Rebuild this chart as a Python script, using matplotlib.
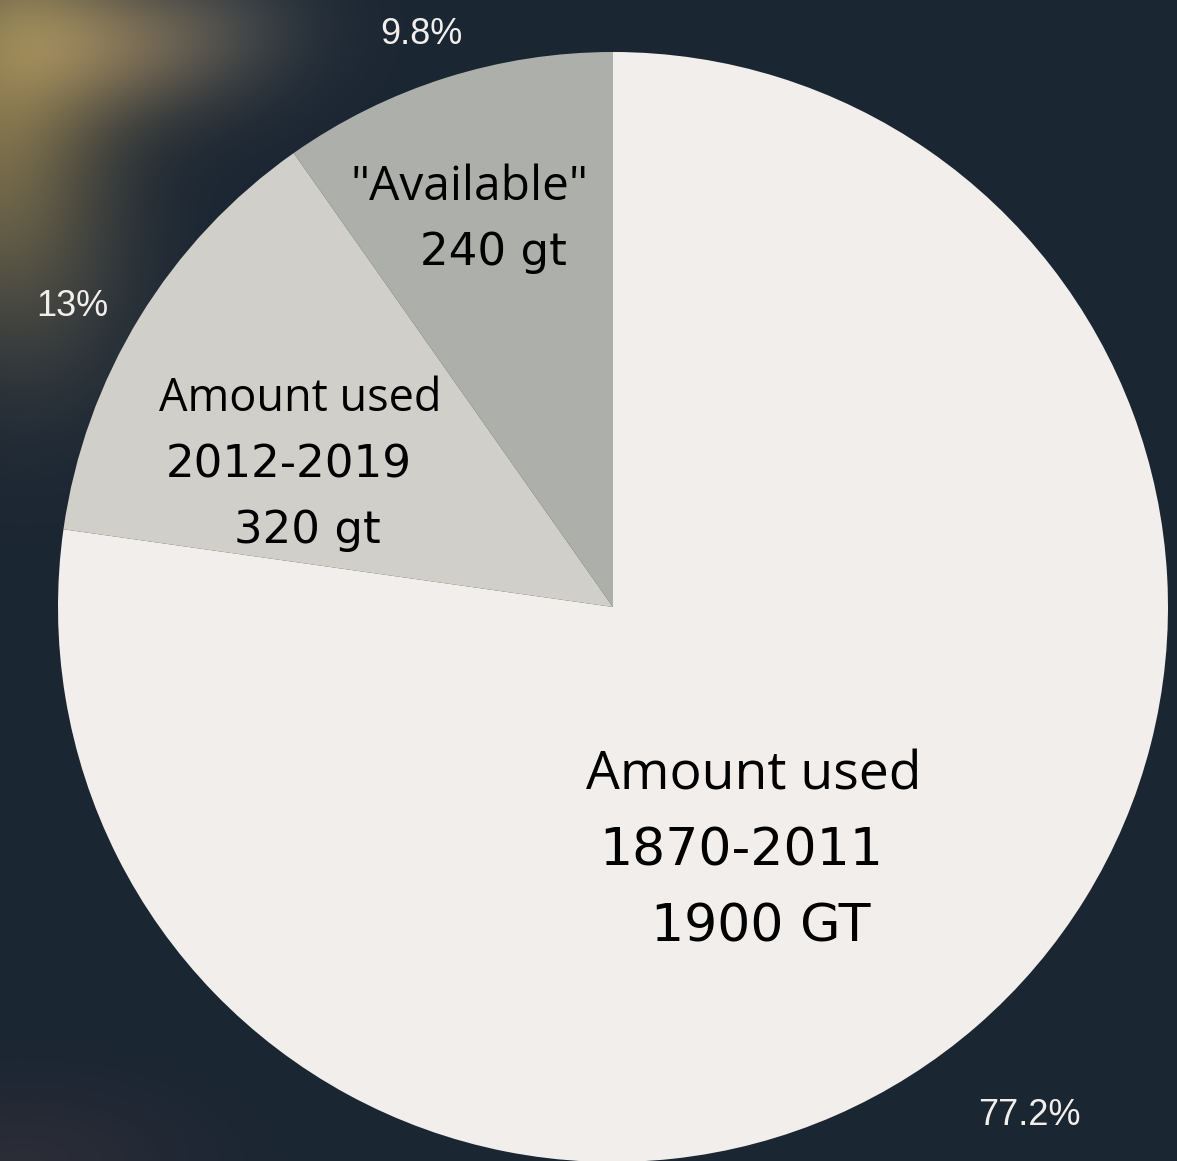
import numpy as np
import matplotlib
matplotlib.use("Agg")
import matplotlib.pyplot as plt

# ---- data ----
categories = ['Amount used\n1870-2011\n1900 GT', 'Amount used\n2012-2019\n320 gt', '"Available"\n240 gt']
values = [1900, 320, 240]
pct_labels = ['77.2%', '13%', '9.8%']
colors = ['#f2eeeb', '#d0cfca', '#adb0aa']

W, H = 1177, 1161
CX, CY, R = 613, 607, 555

fig = plt.figure(figsize=(W / 100, H / 100), dpi=100)
fig.patch.set_facecolor('#1b2633')

# background with soft blurred glow (decorative)
bg = fig.add_axes([0, 0, 1, 1])
yy, xx = np.mgrid[0:H, 0:W]
base = np.array([27, 38, 51], dtype=float)
img = np.ones((H, W, 3)) * base
def blob(cx, cy, sx, sy, col, amt):
    g = np.exp(-(((xx - cx) / sx) ** 2 + ((yy - cy) / sy) ** 2) / 2.0) * amt
    return g[..., None] * (np.array(col, dtype=float) - base)
img += blob(-10, 120, 80, 130, (150, 130, 80), 0.75)
img += blob(130, 45, 80, 50, (135, 115, 88), 0.6)
img += blob(30, 20, 70, 60, (145, 138, 95), 0.3)
img += blob(230, 20, 70, 50, (75, 82, 85), 0.4)
img += blob(50, 300, 70, 90, (70, 72, 72), 0.35)
img += blob(20, 1160, 110, 50, (55, 50, 58), 0.55)
img = np.clip(img, 0, 255) / 255.0
bg.imshow(img, extent=[0, W, H, 0], aspect='auto', interpolation='bilinear')
bg.set_xlim(0, W)
bg.set_ylim(H, 0)
bg.axis('off')

ax = fig.add_axes([0, 0, 1, 1])
ax.patch.set_alpha(0)

# pie drawn counterclockwise from top: Available, 2012-2019, 1870-2011
order = [2, 1, 0]
wedges, _ = ax.pie([values[i] for i in order], colors=[colors[i] for i in order],
                   startangle=90, counterclock=True, radius=R, center=(0, 0),
                   wedgeprops=dict(linewidth=0))
ax.set_xlim(-CX, W - CX)
ax.set_ylim(-(H - CY), CY)
ax.set_aspect('equal')
ax.axis('off')

word_font = ['Open Sans', 'DejaVu Sans']
num_font = ['DejaVu Sans']
pct_font = ['Liberation Sans', 'DejaVu Sans']

def P(x, y):
    return x - CX, CY - y

# in-slice labels (line by line): (center x, baseline y, size, font)
label_lines = {
    0: [(754, 790, 38.5, word_font), (741, 865, 37.5, num_font), (761, 942, 37.5, num_font)],
    1: [(300, 411, 32.5, word_font), (289, 477, 32.5, num_font), (307, 543, 32.5, num_font)],
    2: [(469, 200, 34.5, word_font), (493, 265, 32.5, num_font)],
}
for i, lines in label_lines.items():
    for text, (x, y, fs, fam) in zip(categories[i].split('\n'), lines):
        ax.text(*P(x, y), text, ha='center', va='baseline', color='black',
                fontsize=fs, family=fam)

# percentage labels outside the pie
pct_pos = {0: (1029, 1125), 1: (72, 316), 2: (421, 44)}
for i, (x, y) in pct_pos.items():
    ax.text(*P(x, y), pct_labels[i], ha='center', va='baseline', color='#f2eeeb',
            fontsize=26, family=pct_font)

fig.savefig('out.png', dpi=100, facecolor=fig.get_facecolor())
